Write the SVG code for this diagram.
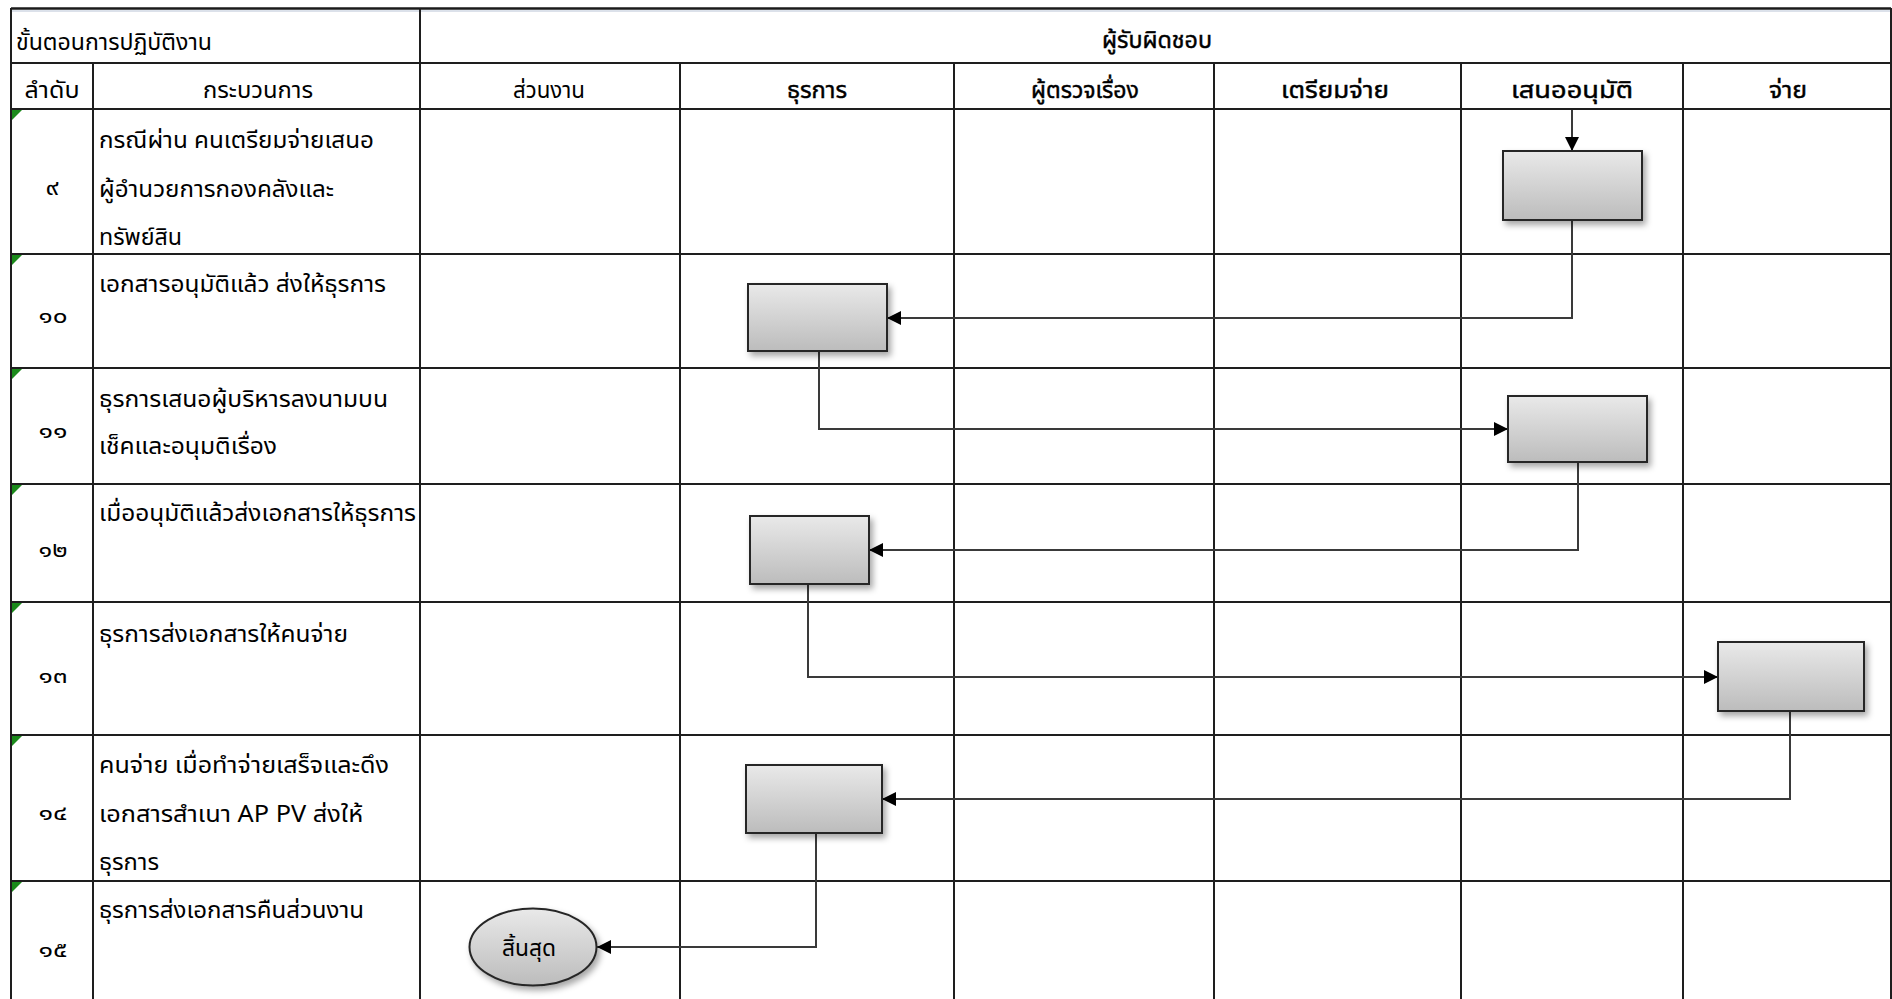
<svg xmlns="http://www.w3.org/2000/svg" width="1892" height="999" viewBox="0 0 1892 999">
  <style>
    .grid { stroke: #1e1e1e; stroke-width: 2; fill: none; }
    .txt { font-family: Tahoma, "Noto Sans Thai", "Noto Sans", "DejaVu Sans", sans-serif; font-size: 23px; fill: #000; }
    .hdr { stroke: #000; stroke-width: 0.45px; }
    .mid { text-anchor: middle; }
    .num { font-size: 22px; text-anchor: middle; }
    .box { fill: url(#boxFill); stroke: #262626; stroke-width: 2; filter: url(#shadow); }
    .wire { stroke: #3a3a3a; stroke-width: 2; fill: none; }
    .flag { fill: #1b8a1b; }
  </style>
  <defs>
    <linearGradient id="boxFill" x1="0" y1="0" x2="0" y2="1">
      <stop offset="0" stop-color="#e9e9e9"/>
      <stop offset="1" stop-color="#bcbcbc"/>
    </linearGradient>
    <filter id="shadow" x="-20%" y="-20%" width="150%" height="160%">
      <feDropShadow dx="3" dy="4" stdDeviation="3" flood-color="#000" flood-opacity="0.35"/>
    </filter>
    <marker id="arrow" viewBox="0 0 14 14" refX="14" refY="7" markerWidth="14" markerHeight="14" markerUnits="userSpaceOnUse" orient="auto">
      <path d="M0,0 L14,7 L0,14 Z" fill="#000"/>
    </marker>
  </defs>

  <rect width="1892" height="999" fill="#fff"/>

  <!-- table grid -->
  <g id="grid">
    <line x1="11" y1="8.5" x2="1891" y2="8.5" stroke="#1a1a1a" stroke-width="2.5"/>
    <line x1="12" y1="11" x2="1890" y2="11" stroke="#b9c4d6" stroke-width="1"/>
    <line class="grid" x1="11" y1="63" x2="1891" y2="63"/>
    <line class="grid" x1="11" y1="109" x2="1891" y2="109"/>
    <line class="grid" x1="11" y1="254" x2="1891" y2="254"/>
    <line class="grid" x1="11" y1="368" x2="1891" y2="368"/>
    <line class="grid" x1="11" y1="484" x2="1891" y2="484"/>
    <line class="grid" x1="11" y1="602" x2="1891" y2="602"/>
    <line class="grid" x1="11" y1="735" x2="1891" y2="735"/>
    <line class="grid" x1="11" y1="881" x2="1891" y2="881"/>
    <line class="grid" x1="11" y1="8" x2="11" y2="999"/>
    <line class="grid" x1="93" y1="63" x2="93" y2="999"/>
    <line class="grid" x1="420" y1="8" x2="420" y2="999"/>
    <line class="grid" x1="680" y1="63" x2="680" y2="999"/>
    <line class="grid" x1="954" y1="63" x2="954" y2="999"/>
    <line class="grid" x1="1214" y1="63" x2="1214" y2="999"/>
    <line class="grid" x1="1461" y1="63" x2="1461" y2="999"/>
    <line class="grid" x1="1683" y1="63" x2="1683" y2="999"/>
    <line class="grid" x1="1891" y1="8" x2="1891" y2="999"/>
    <!-- cell markers -->
    <path class="flag" d="M12,110 h10 L12,120 Z"/>
    <path class="flag" d="M12,255 h10 L12,265 Z"/>
    <path class="flag" d="M12,369 h10 L12,379 Z"/>
    <path class="flag" d="M12,485 h10 L12,495 Z"/>
    <path class="flag" d="M12,603 h10 L12,613 Z"/>
    <path class="flag" d="M12,736 h10 L12,746 Z"/>
    <path class="flag" d="M12,882 h10 L12,892 Z"/>
  </g>

  <!-- headers -->
  <g id="headers">
    <text class="txt" x="16" y="50" textLength="196" lengthAdjust="spacingAndGlyphs">ขั้นตอนการปฏิบัติงาน</text>
    <text class="txt hdr mid" x="1157" y="48" textLength="110" lengthAdjust="spacingAndGlyphs">ผู้รับผิดชอบ</text>
    <text class="txt mid" x="52" y="98" textLength="55" lengthAdjust="spacingAndGlyphs">ลำดับ</text>
    <text class="txt mid" x="258" y="98" textLength="110" lengthAdjust="spacingAndGlyphs">กระบวนการ</text>
    <text class="txt mid" x="549" y="98" textLength="72" lengthAdjust="spacingAndGlyphs">ส่วนงาน</text>
    <text class="txt hdr mid" x="817" y="98" textLength="60" lengthAdjust="spacingAndGlyphs">ธุรการ</text>
    <text class="txt hdr mid" x="1085" y="98" textLength="108" lengthAdjust="spacingAndGlyphs">ผู้ตรวจเรื่อง</text>
    <text class="txt hdr mid" x="1335" y="98" textLength="108" lengthAdjust="spacingAndGlyphs">เตรียมจ่าย</text>
    <text class="txt hdr mid" x="1572" y="98" textLength="122" lengthAdjust="spacingAndGlyphs">เสนออนุมัติ</text>
    <text class="txt hdr mid" x="1788" y="98" textLength="38" lengthAdjust="spacingAndGlyphs">จ่าย</text>
  </g>

  <!-- step numbers and descriptions -->
  <g id="steps">
    <text class="txt num" x="52" y="195" textLength="13" lengthAdjust="spacingAndGlyphs">๙</text>
    <text class="txt" x="99" y="148" textLength="275" lengthAdjust="spacingAndGlyphs">กรณีผ่าน คนเตรียมจ่ายเสนอ</text>
    <text class="txt" x="99" y="197" textLength="235" lengthAdjust="spacingAndGlyphs">ผู้อำนวยการกองคลังและ</text>
    <text class="txt" x="99" y="245" textLength="83" lengthAdjust="spacingAndGlyphs">ทรัพย์สิน</text>

    <text class="txt num" x="53" y="323" textLength="29" lengthAdjust="spacingAndGlyphs">๑๐</text>
    <text class="txt" x="99" y="292" textLength="287" lengthAdjust="spacingAndGlyphs">เอกสารอนุมัติแล้ว ส่งให้ธุรการ</text>

    <text class="txt num" x="53" y="438" textLength="29" lengthAdjust="spacingAndGlyphs">๑๑</text>
    <text class="txt" x="99" y="407" textLength="289" lengthAdjust="spacingAndGlyphs">ธุรการเสนอผู้บริหารลงนามบน</text>
    <text class="txt" x="99" y="454" textLength="178" lengthAdjust="spacingAndGlyphs">เช็คและอนุมติเรื่อง</text>

    <text class="txt num" x="53" y="557" textLength="29" lengthAdjust="spacingAndGlyphs">๑๒</text>
    <text class="txt" x="99" y="521" textLength="317" lengthAdjust="spacingAndGlyphs">เมื่ออนุมัติแล้วส่งเอกสารให้ธุรการ</text>

    <text class="txt num" x="53" y="683" textLength="29" lengthAdjust="spacingAndGlyphs">๑๓</text>
    <text class="txt" x="99" y="642" textLength="249" lengthAdjust="spacingAndGlyphs">ธุรการส่งเอกสารให้คนจ่าย</text>

    <text class="txt num" x="53" y="820" textLength="29" lengthAdjust="spacingAndGlyphs">๑๔</text>
    <text class="txt" x="99" y="773" textLength="290" lengthAdjust="spacingAndGlyphs">คนจ่าย เมื่อทำจ่ายเสร็จและดึง</text>
    <text class="txt" x="99" y="822" textLength="264" lengthAdjust="spacingAndGlyphs">เอกสารสำเนา AP PV ส่งให้</text>
    <text class="txt" x="99" y="870" textLength="60" lengthAdjust="spacingAndGlyphs">ธุรการ</text>

    <text class="txt num" x="53" y="957" textLength="29" lengthAdjust="spacingAndGlyphs">๑๕</text>
    <text class="txt" x="99" y="918" textLength="265" lengthAdjust="spacingAndGlyphs">ธุรการส่งเอกสารคืนส่วนงาน</text>
  </g>

  <!-- connectors -->
  <g id="connectors">
    <path class="wire" d="M1572,110 V151" marker-end="url(#arrow)"/>
    <path class="wire" d="M1572,220 V318 H887" marker-end="url(#arrow)"/>
    <path class="wire" d="M819,351 V429 H1508" marker-end="url(#arrow)"/>
    <path class="wire" d="M1578,462 V550 H869" marker-end="url(#arrow)"/>
    <path class="wire" d="M808,584 V677 H1718" marker-end="url(#arrow)"/>
    <path class="wire" d="M1790,711 V799 H882" marker-end="url(#arrow)"/>
    <path class="wire" d="M816,833 V947 H597" marker-end="url(#arrow)"/>
  </g>

  <!-- process nodes -->
  <g id="node-approve-1"><rect class="box" x="1503" y="151" width="139" height="69"/></g>
  <g id="node-clerk-1"><rect class="box" x="748" y="284" width="139" height="67"/></g>
  <g id="node-approve-2"><rect class="box" x="1508" y="396" width="139" height="66"/></g>
  <g id="node-clerk-2"><rect class="box" x="750" y="516" width="119" height="68"/></g>
  <g id="node-pay"><rect class="box" x="1718" y="642" width="146" height="69"/></g>
  <g id="node-clerk-3"><rect class="box" x="746" y="765" width="136" height="68"/></g>
  <g id="node-end">
    <ellipse class="box" cx="533" cy="947" rx="63.5" ry="38.5" stroke-width="1.8"/>
    <text class="txt mid" x="529" y="956" font-size="21" textLength="54" lengthAdjust="spacingAndGlyphs">สิ้นสุด</text>
  </g>
</svg>
